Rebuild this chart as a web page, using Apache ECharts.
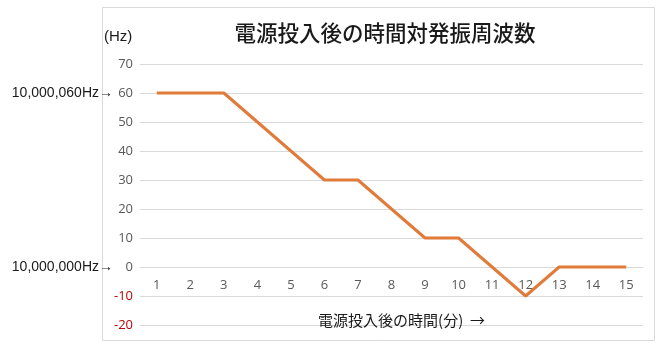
<!DOCTYPE html>
<html><head><meta charset="utf-8">
<script src="https://cdn.jsdelivr.net/npm/echarts@6/dist/echarts.min.js"></script>
<style>html,body{margin:0;padding:0;background:#fff}#c{width:660px;height:347px}</style>
</head><body><div id="c"></div>
<script>
var categories = ['1','2','3','4','5','6','7','8','9','10','11','12','13','14','15'];
var values = [60,60,60,50,40,30,30,20,10,10,0,-10,0,0,0];
var yTicks = {min: -20, max: 70, interval: 10};
var refLabels = {'60': '10,000,060Hz→', '0': '10,000,000Hz→'};
var titleText = '電源投入後の時間対発振周波数';
var xName = '電源投入後の時間(分)  →';
var yName = '(Hz)';

var chart = echarts.init(document.getElementById('c'));
chart.setOption({
  animation: false,
  backgroundColor: '#fff',
  title: {text: titleText, left: 380, top: 17, textAlign: 'center',
    textStyle: {fontFamily: 'Noto Sans CJK JP', fontSize: 21.5, fontWeight: 500, color: '#1a1a1a'}},
  graphic: [
    {type: 'rect', shape: {x: 102.5, y: 7.5, width: 552, height: 333}, style: {fill: 'none', stroke: '#d9d9d9', lineWidth: 1}, z: -1},
    {type: 'text', left: 104, top: 29, style: {text: yName, font: '15px "Liberation Sans"', fill: '#1a1a1a'}}
  ],
  grid: {left: 140, right: 17, top: 64, bottom: 22, containLabel: false, outerBoundsMode: 'none'},
  xAxis: {
    type: 'category', data: categories,
    offset: -58,
    axisLine: {onZero: false, lineStyle: {color: '#d9d9d9'}},
    axisTick: {show: false},
    axisLabel: {color: '#595959', fontSize: 13, fontFamily: 'Open Sans', margin: 12},
    name: xName, nameLocation: 'middle', nameGap: 46,
    nameTextStyle: {fontFamily: 'Noto Sans CJK JP', fontSize: 15, color: '#1a1a1a', padding: [0, 0, 0, 20]}
  },
  yAxis: {
    type: 'value', min: yTicks.min, max: yTicks.max, interval: yTicks.interval,
    axisLine: {show: false}, axisTick: {show: false},
    splitLine: {lineStyle: {color: '#d9d9d9'}},
    axisLabel: {
      margin: 7,
      formatter: function (v) {
        var s = String(v);
        var num = v < 0 ? '{r|' + s + '}' : '{n|' + s + '}';
        return refLabels[s] ? '{p|' + refLabels[s] + '}' + num : num;
      },
      rich: {
        n: {color: '#595959', fontSize: 13, fontFamily: 'Open Sans', width: 20, align: 'right'},
        r: {color: '#c00000', fontSize: 13, fontFamily: 'Open Sans', width: 20, align: 'right'},
        p: {color: '#1a1a1a', fontSize: 14, fontFamily: 'Liberation Sans', padding: [0, 0, 0, 0]}
      }
    }
  },
  series: [{
    type: 'line', data: values, symbol: 'none',
    lineStyle: {color: '#E07B39', width: 3}
  }]
});
</script></body></html>
